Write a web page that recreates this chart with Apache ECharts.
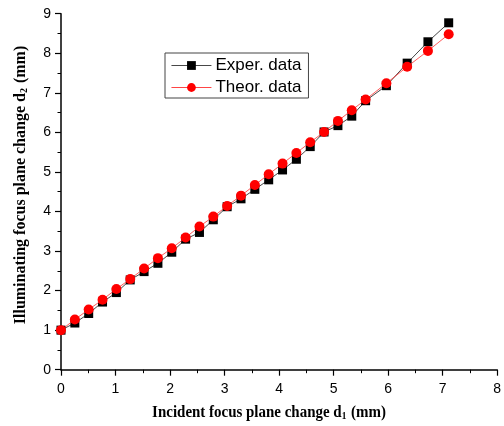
<!DOCTYPE html>
<html>
<head>
<meta charset="utf-8">
<script src="https://cdn.jsdelivr.net/npm/echarts@6/dist/echarts.min.js"></script>
<style>html,body{margin:0;padding:0;background:#fff;}#c{width:504px;height:426px;}</style>
</head>
<body>
<div id="c"></div>
<script>
// Incident focus plane change d1 (mm)
const d1 = [0, 0.254, 0.508, 0.762, 1.016, 1.27, 1.524, 1.778, 2.032, 2.286, 2.54, 2.794, 3.048, 3.302, 3.556, 3.81, 4.064, 4.318, 4.572, 4.826, 5.08, 5.334, 5.588, 5.969, 6.35, 6.731, 7.112];
// Experimental d2 (mm)
const experD2 = [1.00, 1.18, 1.42, 1.71, 1.95, 2.27, 2.48, 2.69, 2.97, 3.30, 3.47, 3.79, 4.12, 4.32, 4.56, 4.80, 5.05, 5.32, 5.64, 6.01, 6.17, 6.41, 6.80, 7.18, 7.75, 8.29, 8.77];
// Theoretical d2 (mm)
const theorD2 = [1.00, 1.27, 1.52, 1.77, 2.04, 2.29, 2.56, 2.82, 3.07, 3.34, 3.62, 3.87, 4.14, 4.40, 4.67, 4.94, 5.21, 5.48, 5.75, 6.01, 6.29, 6.56, 6.83, 7.24, 7.66, 8.06, 8.48];
const seriesNames = ['Exper. data', 'Theor. data'];
const xTitle = 'Incident focus plane change d{s|1} (mm)';
const yTitle = 'Illuminating focus plane change d{s|2} (mm)';

const chart = echarts.init(document.getElementById('c'), null, {renderer: 'canvas'});
const pair = (xs, ys) => xs.map((x, i) => [x, ys[i]]);
const axisCommon = {
  type: 'value',
  interval: 1,
  axisLine: {show: true, onZero: false, lineStyle: {color: '#000', width: 1.5}},
  axisTick: {show: true, inside: false, length: 6, lineStyle: {color: '#000', width: 1.2}},
  minorTick: {show: true, splitNumber: 2, length: 3.5, lineStyle: {color: '#000', width: 1}},
  splitLine: {show: false},
  axisLabel: {color: '#000', fontFamily: 'Liberation Sans, Arial', fontSize: 14, margin: 10}
};
const titleRich = {
  s: {fontFamily: 'Liberation Serif', fontWeight: 'bold', fontSize: 10, padding: [7, 1, 0, 0]}
};
chart.setOption({
  animation: false,
  backgroundColor: '#fff',
  grid: {left: 61, top: 13.7, width: 444, height: 356},
  xAxis: Object.assign({}, axisCommon, {min: 0, max: 8,
    axisLabel: Object.assign({}, axisCommon.axisLabel, {margin: 12, showMaxLabel: true})}),
  yAxis: Object.assign({}, axisCommon, {min: 0, max: 9}),
  legend: {
    orient: 'vertical', left: 165, top: 53,
    padding: [4, 7, 2, 6], itemGap: 5, itemWidth: 40, itemHeight: 11,
    borderColor: '#444', borderWidth: 1,
    lineStyle: {width: 0.9},
    textStyle: {fontFamily: 'Liberation Sans, Arial', fontSize: 17, color: '#000', padding: [0, 0, 0, -1]},
    data: seriesNames
  },
  graphic: [
    {type: 'text', x: 269, y: 413, scaleX: 0.935,
      style: {text: xTitle, fontFamily: 'Liberation Serif', fontWeight: 'bold', fontSize: 16, fill: '#000', align: 'center', verticalAlign: 'middle', rich: titleRich}},
    {type: 'text', x: 21, y: 185, rotation: Math.PI / 2,
      style: {text: yTitle, fontFamily: 'Liberation Serif', fontWeight: 'bold', fontSize: 16, fill: '#000', align: 'center', verticalAlign: 'middle', rich: titleRich}}
  ],
  series: [
    {name: seriesNames[0], type: 'line', data: pair(d1, experD2), symbol: 'rect', symbolSize: 9,
      itemStyle: {color: '#000'}, lineStyle: {color: '#333', width: 0.9}, z: 2},
    {name: seriesNames[1], type: 'line', data: pair(d1, theorD2), symbol: 'circle', symbolSize: 10,
      itemStyle: {color: '#ff0000'}, lineStyle: {color: '#ff3030', width: 0.8}, z: 3}
  ]
});
</script>
</body>
</html>
